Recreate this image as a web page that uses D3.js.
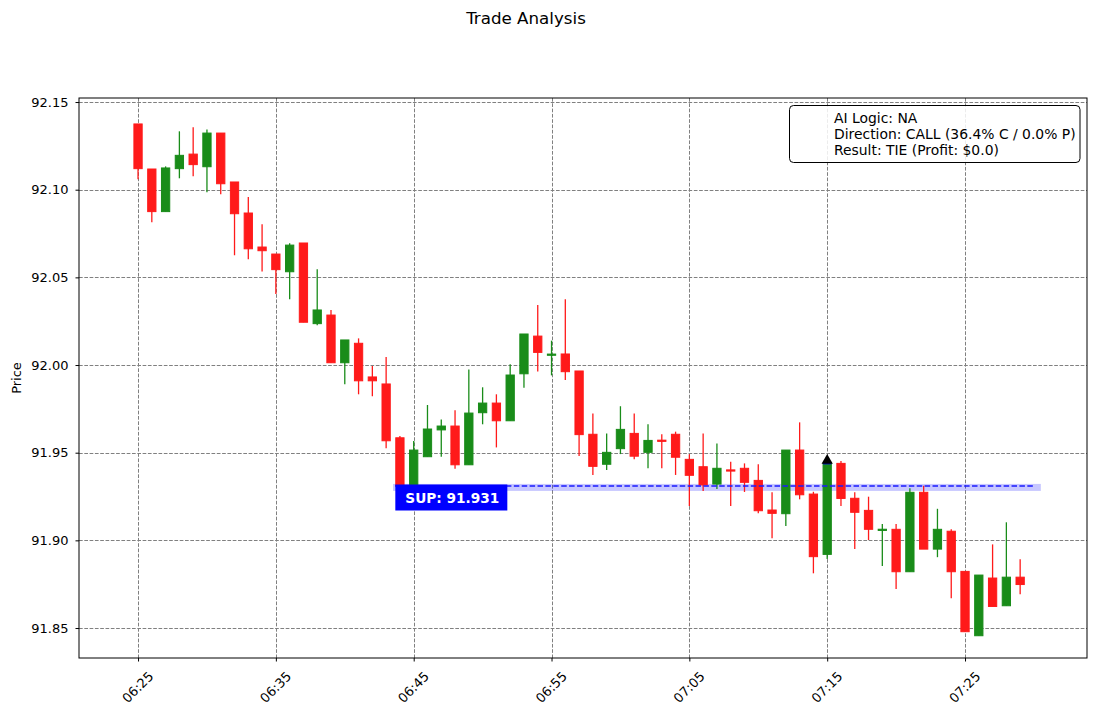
<!DOCTYPE html>
<html>
<head>
<meta charset="utf-8">
<script src="https://cdn.jsdelivr.net/npm/d3@7"></script>
<style>
  html, body { margin: 0; padding: 0; background: #fff; }
  svg { display: block; font-family: "DejaVu Sans", sans-serif; }
</style>
</head>
<body>
<svg id="chart" width="1097" height="716"></svg>
<script>
(function () {
// ---- data ----
const times = ["06:25","06:26","06:27","06:28","06:29","06:30","06:31","06:32","06:33","06:34",
  "06:35","06:36","06:37","06:38","06:39","06:40","06:41","06:42","06:43","06:44",
  "06:45","06:46","06:47","06:48","06:49","06:50","06:51","06:52","06:53","06:54",
  "06:55","06:56","06:57","06:58","06:59","07:00","07:01","07:02","07:03","07:04",
  "07:05","07:06","07:07","07:08","07:09","07:10","07:11","07:12","07:13","07:14",
  "07:15","07:16","07:17","07:18","07:19","07:20","07:21","07:22","07:23","07:24",
  "07:25","07:26","07:27","07:28","07:29"];
const opens = [92.1375,92.1118,92.0875,92.1120,92.1203,92.1131,92.1323,92.1044,92.0867,92.0673,
  92.0633,92.0532,92.0696,92.0236,92.0285,92.0013,92.0124,91.9932,91.9892,91.9585,
  91.9310,91.9477,91.9630,91.9652,91.9431,91.9728,91.9783,91.9682,91.9950,92.0165,
  92.0056,92.0063,91.9966,91.9605,91.9434,91.9523,91.9610,91.9502,91.9570,91.9605,
  91.9462,91.9420,91.9321,91.9401,91.9411,91.9342,91.9173,91.9152,91.9515,91.9264,
  91.8920,91.9439,91.9240,91.9171,91.9057,91.9063,91.8821,91.9274,91.8950,91.9052,
  91.8823,91.8456,91.8785,91.8627,91.8790];
const highs = [92.1375,92.1118,92.1133,92.1333,92.1356,92.1344,92.1323,92.1044,92.0958,92.0803,
  92.0633,92.0694,92.0696,92.0546,92.0314,92.0143,92.0152,91.9994,92.0046,91.9595,
  91.9567,91.9772,91.9690,91.9742,91.9975,91.9873,91.9833,92.0004,92.0177,92.0342,
  92.0139,92.0375,91.9966,91.9724,91.9610,91.9765,91.9724,91.9662,91.9605,91.9620,
  91.9491,91.9610,91.9553,91.9449,91.9439,91.9434,91.9274,91.9515,91.9673,91.9277,
  91.9468,91.9453,91.9274,91.9249,91.9093,91.9093,91.9297,91.9312,91.9180,91.9063,
  91.8823,91.8802,91.8977,91.9103,91.8892];
const lows = [92.1060,92.0815,92.0875,92.1065,92.1076,92.0985,92.0974,92.0626,92.0603,92.0534,
  92.0405,92.0375,92.0244,92.0227,92.0013,91.9890,91.9833,91.9822,91.9525,91.9290,
  91.9290,91.9477,91.9477,91.9409,91.9431,91.9662,91.9530,91.9682,91.9870,91.9963,
  91.9941,91.9915,91.9481,91.9373,91.9401,91.9492,91.9462,91.9411,91.9411,91.9373,
  91.9196,91.9281,91.9293,91.9196,91.9276,91.9154,91.9012,91.9082,91.9234,91.8812,
  91.8894,91.9196,91.8950,91.9002,91.8854,91.8722,91.8821,91.8950,91.8904,91.8670,
  91.8479,91.8456,91.8623,91.8627,91.8692];
const closes = [92.1120,92.0875,92.1124,92.1196,92.1143,92.1323,92.1034,92.0863,92.0663,92.0652,
  92.0544,92.0684,92.0244,92.0314,92.0013,92.0143,91.9910,91.9910,91.9568,91.9310,
  91.9515,91.9635,91.9652,91.9431,91.9726,91.9783,91.9682,91.9943,92.0177,92.0072,
  92.0062,91.9962,91.9603,91.9422,91.9502,91.9633,91.9480,91.9570,91.9566,91.9474,
  91.9371,91.9316,91.9411,91.9396,91.9331,91.9169,91.9154,91.9515,91.9260,91.8907,
  91.9439,91.9239,91.9160,91.9063,91.9063,91.8821,91.9274,91.8950,91.9063,91.8821,
  91.8479,91.8802,91.8623,91.8790,91.8748];

const yTicks = [91.85, 91.90, 91.95, 92.00, 92.05, 92.10, 92.15];
const xTickLabels = ["06:25","06:35","06:45","06:55","07:05","07:15","07:25"];

const supportPrice = 91.931;
const supportBand = [91.9282, 91.9322];
const supportLineSpan = ["06:43:40", "07:29:56"];
const supportBandSpan = ["06:43:30", "07:30:30"];
const entryTime = "07:15";
const entryPrice = 91.9439;
const entryMarkerPrice = 91.9455;

const titleText = "Trade Analysis";
const yLabel = "Price";
const legendLines = ["AI Logic: NA", "Direction: CALL (36.4% C / 0.0% P)", "Result: TIE (Profit: $0.0)"];

// ---- setup ----
const parseHM = d3.timeParse("%H:%M");
const parseHMS = d3.timeParse("%H:%M:%S");
const candles = times.map((t, i) => ({
  t: parseHM(t), o: opens[i], h: highs[i], l: lows[i], c: closes[i]
}));

const pL = 79, pR = 1087, pT = 98, pB = 658;
const t0 = candles[0].t, tN = candles[candles.length - 1].t;
const x = d3.scaleTime()
  .domain([d3.timeSecond.offset(t0, -257), d3.timeSecond.offset(tN, 291)])
  .range([pL, pR]);
const y = d3.scaleLinear().domain([91.8329, 92.1523]).range([pB, pT]);

const svg = d3.select("#chart");
const RED = "#ff1a1a", GREEN = "#198c19";
const minPx = x(d3.timeMinute.offset(t0, 1)) - x(t0);
const bodyW = minPx * 0.6;

svg.append("defs").append("clipPath").attr("id", "clip")
  .append("rect").attr("x", pL).attr("y", pT).attr("width", pR - pL).attr("height", pB - pT);

// grid
const grid = svg.append("g").attr("stroke", "#808080").attr("stroke-width", 1)
  .attr("stroke-dasharray", "3.7,1.6");
xTickLabels.forEach(s => {
  const xx = Math.round(x(parseHM(s))) + 0.5;
  grid.append("line").attr("x1", xx).attr("x2", xx).attr("y1", pT).attr("y2", pB);
});
yTicks.forEach(v => {
  const yy = Math.round(y(v)) + 0.5;
  grid.append("line").attr("x1", pL).attr("x2", pR).attr("y1", yy).attr("y2", yy);
});

const plot = svg.append("g").attr("clip-path", "url(#clip)");

// support band
plot.append("rect")
  .attr("x", x(parseHMS(supportBandSpan[0])))
  .attr("width", x(parseHMS(supportBandSpan[1])) - x(parseHMS(supportBandSpan[0])))
  .attr("y", y(supportBand[1]))
  .attr("height", y(supportBand[0]) - y(supportBand[1]))
  .attr("fill", "#0000ff").attr("opacity", 0.22);

// candles
const cg = plot.append("g");
candles.forEach(d => {
  const col = d.c >= d.o ? GREEN : RED;
  const cx = x(d.t);
  cg.append("line").attr("x1", cx).attr("x2", cx).attr("y1", y(d.h)).attr("y2", y(d.l))
    .attr("stroke", col).attr("stroke-width", 1.3);
  const yt = y(Math.max(d.o, d.c)), yb = y(Math.min(d.o, d.c));
  let h = yb - yt; let ytop = yt;
  if (h < 1.2) { ytop = (yt + yb) / 2 - 0.6; h = 1.2; }
  cg.append("rect").attr("x", cx - bodyW / 2).attr("width", bodyW)
    .attr("y", ytop).attr("height", h)
    .attr("fill", col).attr("stroke", col).attr("stroke-width", 1);
});

plot.append("line")
  .attr("x1", x(parseHMS(supportLineSpan[0]))).attr("x2", x(parseHMS(supportLineSpan[1])))
  .attr("y1", y(supportPrice)).attr("y2", y(supportPrice))
  .attr("stroke", "#1a1aff").attr("stroke-width", 1.7).attr("stroke-dasharray", "5.5,2.4");

// entry marker
const ex = x(parseHM(entryTime));
plot.append("line").attr("x1", ex - bodyW / 2).attr("x2", ex + bodyW / 2)
  .attr("y1", y(entryPrice)).attr("y2", y(entryPrice))
  .attr("stroke", "#0000ff").attr("stroke-width", 2);
plot.append("path")
  .attr("d", d3.symbol().type(d3.symbolTriangle).size(55))
  .attr("transform", `translate(${ex},${y(entryMarkerPrice)})`)
  .attr("fill", "#000");

// support label
const lx = x(parseHMS(supportLineSpan[0]));
const ly = y(supportPrice);
const lbl = svg.append("g");
lbl.append("rect").attr("x", lx).attr("y", ly - 1.5).attr("width", 112).attr("height", 26)
  .attr("fill", "#0000ff");
lbl.append("text").attr("x", lx + 10).attr("y", ly + 16.5)
  .attr("fill", "#fff").attr("font-weight", "bold").attr("font-size", "13.7px")
  .text("SUP: " + supportPrice.toFixed(3));

// axes
const yAxis = d3.axisLeft(y).tickValues(yTicks).tickFormat(d3.format(".2f"))
  .tickSize(3.5).tickPadding(7);
const gy = svg.append("g").attr("transform", `translate(${pL},0)`).call(yAxis);
const xAxis = d3.axisBottom(x).tickValues(xTickLabels.map(parseHM))
  .tickFormat(d3.timeFormat("%H:%M")).tickSize(3.5).tickPadding(4);
const gx = svg.append("g").attr("transform", `translate(0,${pB})`).call(xAxis);
[gx, gy].forEach(g => {
  g.select(".domain").remove();
  g.selectAll("line").attr("stroke", "#000").attr("stroke-width", 1);
  g.selectAll("text").attr("font-family", "DejaVu Sans").attr("font-size", "13px").attr("fill", "#000");
});
gx.selectAll("text")
  .attr("text-anchor", "middle").attr("dy", null)
  .attr("transform", "translate(0,30) rotate(-45)")
  .attr("y", 0).attr("dominant-baseline", "middle");

// frame
svg.append("rect").attr("x", pL).attr("y", pT).attr("width", pR - pL).attr("height", pB - pT)
  .attr("fill", "none").attr("stroke", "#000").attr("stroke-width", 1);

// title and axis label
svg.append("text").attr("x", 526).attr("y", 24).attr("text-anchor", "middle")
  .attr("font-size", "16.7px").attr("fill", "#000").text(titleText);
svg.append("text").attr("transform", `translate(21,${(pT + pB) / 2}) rotate(-90)`)
  .attr("text-anchor", "middle").attr("font-size", "13px").attr("fill", "#000").text(yLabel);

// legend
const lg = svg.append("g");
lg.append("rect").attr("x", 789.5).attr("y", 105.5).attr("width", 290.5).attr("height", 57)
  .attr("rx", 4).attr("fill", "#fff").attr("fill-opacity", 0.85).attr("stroke", "#000").attr("stroke-width", 1);
legendLines.forEach((s, i) => {
  lg.append("text").attr("x", 834).attr("y", 123 + i * 16).attr("font-size", "13.9px")
    .attr("fill", "#000").text(s);
});
})();
</script>
</body>
</html>
